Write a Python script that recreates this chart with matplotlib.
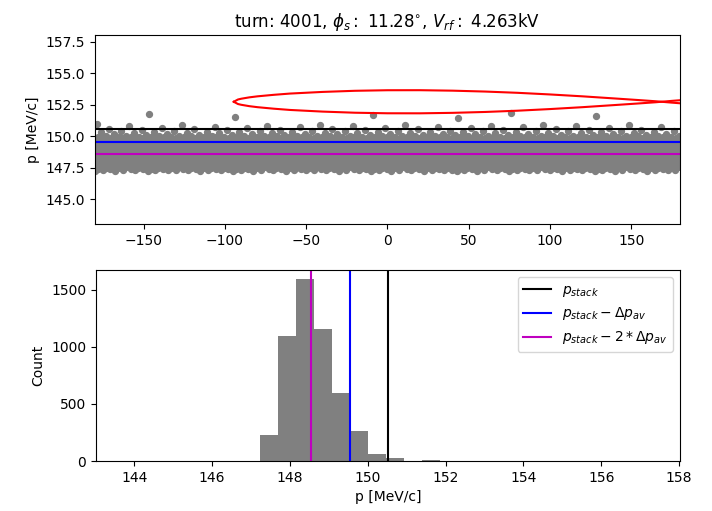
import numpy as np
import matplotlib
matplotlib.use("Agg")
import matplotlib.pyplot as plt

# reference momenta [MeV/c]
p_stack = 150.52
dp_av = 0.985

# histogram (10 bins between min and max momentum)
p_min, p_max = 147.23, 151.85
bin_counts = [227, 1094, 1594, 1159, 594, 262, 65, 30, 0, 6]

# separatrix: centre momentum and half height vs phase [deg]
sep_centre = 152.72
sep_phase = [-94.6, -92, -90, -85, -80, -70, -60, -40, -20, 0, 20, 40, 60,
             80, 100, 120, 140, 155, 165, 168.7, 175, 180]
sep_half = [0.0, 0.18, 0.24, 0.35, 0.43, 0.55, 0.65, 0.78, 0.87, 0.914, 0.917,
            0.88, 0.81, 0.71, 0.58, 0.43, 0.26, 0.13, 0.04, 0.0, 0.07, 0.12]

# particles: momenta spread through each histogram bin, phases spread over the ring
edges = np.linspace(p_min, p_max, len(bin_counts) + 1)
p = np.concatenate([lo + (np.arange(n) + 0.5) / n * (hi - lo)
                    for lo, hi, n in zip(edges[:-1], edges[1:], bin_counts) if n > 0])
golden = (np.sqrt(5) - 1) / 2
phase = -180 + 360 * ((np.arange(len(p)) * golden) % 1.0)

fig = plt.figure(figsize=(7.12, 5.11), dpi=100)
ax1 = fig.add_axes([0.1334, 0.5616, 0.8216, 0.37])
ax2 = fig.add_axes([0.1348, 0.0978, 0.8202, 0.3738])

# top: phase space
ax1.scatter(phase, p, s=18, color='gray', zorder=1)
sp = np.array(sep_phase)
sh = np.array(sep_half)
ax1.plot(sp, sep_centre + sh, 'r-')
ax1.plot(sp, sep_centre - sh, 'r-')
ax1.axhline(p_stack, color='k')
ax1.axhline(p_stack - dp_av, color='b')
ax1.axhline(p_stack - 2 * dp_av, color='m')
ax1.set_xlim(-180, 180)
ax1.set_ylim(p_stack - 7.5, p_stack + 7.5)
ax1.set_ylabel('p [MeV/c]')
ax1.set_title(r'turn: 4001, $\phi_s:$ 11.28$^{\circ}$, $V_{rf}:$ 4.263kV')

# bottom: momentum histogram
ax2.hist(p, bins=edges, color='gray')
ax2.axvline(p_stack, color='k', label=r'$p_{stack}$')
ax2.axvline(p_stack - dp_av, color='b', label=r'$p_{stack}-\Delta p_{av}$')
ax2.axvline(p_stack - 2 * dp_av, color='m', label=r'$p_{stack}-2*\Delta p_{av}$')
ax2.set_xlim(p_stack - 7.5, p_stack + 7.5)
ax2.set_xlabel('p [MeV/c]')
ax2.set_ylabel('Count')
ax2.legend(loc='upper right')

fig.savefig('out.png')
